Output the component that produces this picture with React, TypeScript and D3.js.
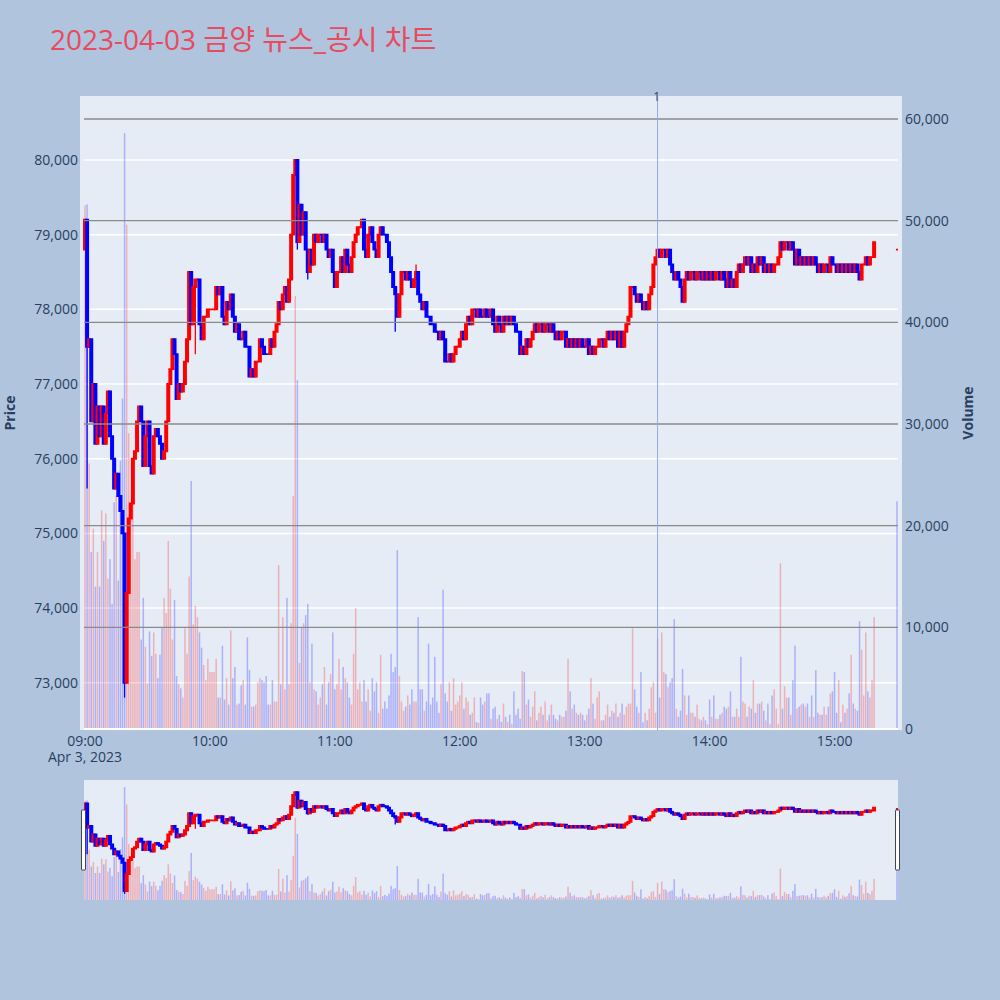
import * as d3 from "d3"
import { useRef, useEffect } from "react"

const title = "2023-04-03 금양 뉴스_공시 차트"
const sessionStart = new Date(2023, 3, 3, 9, 0)
const firstOpen = 78800

// one close per minute, 09:00 .. 15:19
const closes = [
  79200, 77500, 77600, 76500, 77000, 76200, 76700, 76300, 76700, 76200, // 09:00
  76600, 76900, 76300, 76000, 75600, 75800, 75500, 75300, 75000, 73000, // 09:10
  74200, 75200, 75400, 76000, 76100, 76500, 76700, 76500, 75900, 76300, // 09:20
  76500, 75900, 75800, 76300, 76400, 76300, 76200, 76000, 76100, 76500, // 09:30
  77000, 77200, 77600, 77400, 76800, 77000, 76900, 77000, 77300, 77600, // 09:40
  78500, 77800, 78300, 78400, 78400, 77800, 77600, 77900, 77900, 78000, // 09:50
  78000, 78000, 78000, 78300, 78200, 78300, 77900, 77800, 78100, 78000, // 10:00
  78200, 77900, 77700, 77800, 77600, 77600, 77700, 77500, 77500, 77100, // 10:10
  77200, 77100, 77300, 77300, 77600, 77500, 77400, 77400, 77400, 77600, // 10:20
  77500, 77700, 77800, 78100, 78000, 78200, 78300, 78100, 78400, 79000, // 10:30
  79800, 80000, 78900, 79400, 79000, 79300, 78800, 78500, 78800, 78600, // 10:40
  79000, 78900, 79000, 79000, 78900, 79000, 78800, 78700, 78800, 78500, // 10:50
  78300, 78500, 78500, 78700, 78500, 78800, 78600, 78500, 78700, 78900, // 11:00
  79000, 79100, 79100, 79200, 78800, 78700, 79000, 79100, 78900, 78800, // 11:10
  78700, 79000, 79100, 79000, 79000, 78900, 78700, 78500, 78300, 78200, // 11:20
  77900, 78200, 78500, 78500, 78400, 78500, 78400, 78300, 78400, 78500, // 11:30
  78200, 78100, 78000, 78100, 77900, 77900, 77800, 77800, 77700, 77700, // 11:40
  77600, 77700, 77600, 77300, 77300, 77400, 77300, 77400, 77500, 77500, // 11:50
  77600, 77700, 77600, 77800, 77900, 77800, 78000, 78000, 77900, 78000, // 12:00
  77900, 77900, 78000, 77900, 77900, 78000, 77800, 77700, 77900, 77800, // 12:10
  77700, 77900, 77800, 77900, 77800, 77900, 77800, 77700, 77700, 77400, // 12:20
  77500, 77400, 77600, 77500, 77600, 77700, 77800, 77700, 77800, 77800, // 12:30
  77700, 77800, 77800, 77700, 77800, 77700, 77600, 77700, 77600, 77700, // 12:40
  77700, 77500, 77600, 77500, 77600, 77500, 77600, 77500, 77600, 77500, // 12:50
  77500, 77600, 77400, 77500, 77400, 77500, 77500, 77600, 77600, 77500, // 13:00
  77600, 77700, 77600, 77700, 77600, 77700, 77500, 77700, 77500, 77700, // 13:10
  77800, 77900, 78300, 78300, 78200, 78100, 78200, 78100, 78000, 78100, // 13:20
  78000, 78200, 78300, 78600, 78700, 78800, 78700, 78800, 78800, 78700, // 13:30
  78800, 78600, 78500, 78400, 78500, 78400, 78300, 78100, 78400, 78500, // 13:40
  78400, 78500, 78500, 78400, 78500, 78500, 78400, 78500, 78400, 78500, // 13:50
  78400, 78500, 78400, 78500, 78500, 78400, 78500, 78400, 78300, 78500, // 14:00
  78300, 78400, 78300, 78500, 78600, 78500, 78600, 78700, 78600, 78700, // 14:10
  78500, 78600, 78500, 78700, 78600, 78700, 78500, 78600, 78500, 78600, // 14:20
  78500, 78600, 78600, 78700, 78900, 78800, 78900, 78900, 78800, 78900, // 14:30
  78800, 78600, 78800, 78600, 78700, 78600, 78700, 78600, 78700, 78600, // 14:40
  78700, 78600, 78500, 78600, 78500, 78600, 78600, 78500, 78700, 78600, // 14:50
  78600, 78500, 78600, 78500, 78600, 78500, 78600, 78500, 78600, 78500, // 15:00
  78600, 78500, 78400, 78600, 78600, 78700, 78600, 78700, 78700, 78900, // 15:10
]

const volumes = [
  51500, 51600, 26100, 17400, 19700, 14000, 17400, 14000, 21500, 18500, // 09:00
  21200, 14800, 16700, 12300, 22300, 22900, 14600, 26400, 32500, 58600, // 09:10
  49600, 29100, 20800, 22300, 16700, 17400, 17400, 8800, 12900, 8100, // 09:20
  4500, 9600, 7200, 9500, 7400, 5000, 7300, 10000, 12900, 11400, // 09:30
  18500, 13800, 8800, 12700, 5200, 4400, 4000, 3100, 9900, 7400, // 09:40
  15000, 24400, 10300, 12100, 11000, 9500, 8000, 6300, 4800, 6900, // 09:50
  5600, 5600, 5600, 6900, 3100, 3100, 8200, 2900, 5000, 2400, // 10:00
  9700, 5000, 6100, 2400, 2500, 4300, 4800, 2400, 9000, 5800, // 10:10
  2200, 2200, 2400, 4600, 5000, 4800, 4600, 5200, 2400, 2400, // 10:20
  4800, 2700, 2700, 16100, 4400, 11000, 3900, 12900, 4400, 10400, // 10:30
  22900, 42600, 34300, 6500, 10000, 10400, 11200, 12300, 4600, 8400, // 10:40
  3900, 3700, 2400, 3100, 4400, 6100, 2400, 4600, 5400, 9500, // 10:50
  3900, 4400, 6900, 3900, 6100, 5000, 4600, 3100, 2400, 7400, // 11:00
  11900, 3900, 4600, 2700, 4800, 2700, 3900, 1800, 5000, 3700, // 11:10
  4600, 1600, 7300, 2000, 2700, 2000, 3300, 7400, 5600, 6100, // 11:20
  17600, 5200, 2700, 1800, 2200, 3300, 2400, 3900, 2700, 2700, // 11:30
  11000, 3900, 3900, 1800, 2700, 8400, 2400, 3100, 7100, 2700, // 11:40
  1600, 4400, 13700, 3500, 2700, 4600, 1800, 5000, 2400, 2700, // 11:50
  3300, 4600, 2000, 3100, 2700, 1400, 1600, 3100, 700, 600, // 12:00
  3100, 2400, 2700, 3500, 3500, 1000, 2000, 2200, 1000, 1400, // 12:10
  700, 2500, 1200, 700, 1400, 500, 3700, 1400, 2000, 1000, // 12:20
  5700, 5600, 2400, 2900, 1200, 2200, 3700, 850, 1600, 2200, // 12:30
  1400, 2700, 850, 1400, 2400, 1400, 1000, 850, 1400, 1200, // 12:40
  1200, 1800, 6900, 3700, 2000, 2400, 1600, 1400, 1600, 1400, // 12:50
  850, 1400, 2000, 5000, 2500, 1000, 3100, 3700, 850, 850, // 13:00
  1400, 2400, 1200, 1800, 1600, 2500, 1200, 1600, 2500, 1400, // 13:10
  2200, 2500, 2500, 9900, 3900, 2200, 1600, 5600, 660, 1600, // 13:20
  850, 2000, 4100, 4600, 1600, 8900, 3100, 9500, 5600, 5400, // 13:30
  4100, 4600, 5000, 10800, 2000, 1200, 1800, 5900, 3300, 1400, // 13:40
  3300, 1600, 1600, 1200, 2400, 1000, 850, 1200, 850, 470, // 13:50
  2900, 1200, 3300, 1000, 1000, 1400, 1600, 2200, 2000, 2200, // 14:00
  3700, 1200, 1200, 2000, 1200, 7100, 2700, 2500, 1200, 2200, // 14:10
  2000, 4800, 1600, 2500, 2500, 2700, 1800, 850, 2500, 470, // 14:20
  3300, 3900, 2000, 470, 16300, 2000, 4200, 3100, 3100, 1400, // 14:30
  4800, 8200, 2000, 2200, 2400, 2500, 2200, 2500, 1200, 3300, // 14:40
  1200, 5800, 1600, 1400, 1400, 2200, 1400, 2200, 3500, 3700, // 14:50
  5600, 1600, 4800, 660, 2400, 1600, 2000, 3500, 7300, 2500, // 15:00
  2000, 1800, 10600, 7800, 3300, 9500, 3700, 3100, 4800, 11000, // 15:10
]

// [minute, high, low] where the range goes past the body
const wicks: [number, number, number][] = [
  [1, 79200, 75600],
  [19, 75000, 72800],
  [53, 78400, 77400],
  [102, 80000, 78800],
  [107, 78800, 78400],
  [149, 78300, 77700],
  [159, 78600, 78400],
]

// closing auction at 15:30
const auctionMinute = 390
const auctionPrice = 78800
const auctionVolume = 22400

const newsMarks: [string, string][] = [["13:35", "1"]]

const priceTicks = [73000, 74000, 75000, 76000, 77000, 78000, 79000, 80000]
const volumeTicks = [0, 10000, 20000, 30000, 40000, 50000, 60000]

type Candle = {
  t: Date
  o: number
  h: number
  l: number
  c: number
  v: number
  up: boolean
  volUp: boolean
}

const at = (m: number) => new Date(sessionStart.getTime() + m * 60000)

function buildCandles(): Candle[] {
  const wickMap = new Map(wicks.map((w) => [w[0], w]))
  const rows = closes.map((c, i) => ({ m: i, o: i === 0 ? firstOpen : closes[i - 1], c, v: volumes[i] }))
  rows.push({ m: auctionMinute, o: auctionPrice, c: auctionPrice, v: auctionVolume })
  let dir = true
  let volDir = true
  let prevClose = firstOpen
  return rows.map((r) => {
    if (r.c !== r.o) dir = r.c > r.o
    if (r.c !== prevClose) volDir = r.c > prevClose
    prevClose = r.c
    const w = wickMap.get(r.m)
    return {
      t: at(r.m),
      o: r.o,
      c: r.c,
      h: Math.max(r.o, r.c, w ? w[1] : -Infinity),
      l: Math.min(r.o, r.c, w ? w[2] : Infinity),
      v: r.v,
      up: dir,
      volUp: volDir,
    }
  })
}

const UP = "#ff0000"
const DOWN = "#0000ff"
const FONT = "'Open Sans', 'Noto Sans CJK KR', verdana, arial, sans-serif"
const TEXT = "#2a3f5f"

type G = d3.Selection<SVGGElement, unknown, null, undefined>

function drawVolume(g: G, data: Candle[], x: d3.ScaleTime<number, number>, yV: d3.ScaleLinear<number, number>) {
  g.append("g")
    .selectAll("rect")
    .data(data)
    .join("rect")
    .attr("x", (d) => x(d.t) - 0.75)
    .attr("width", 1.5)
    .attr("y", (d) => yV(d.v))
    .attr("height", (d) => yV(0) - yV(d.v))
    .attr("fill", (d) => (d.volUp ? "rgba(255,0,0,0.25)" : "rgba(0,0,255,0.25)"))
}

function drawCandles(g: G, data: Candle[], x: d3.ScaleTime<number, number>, yP: d3.ScaleLinear<number, number>) {
  const color = (d: Candle) => (d.up ? UP : DOWN)
  const group = g.append("g")
  group
    .append("g")
    .selectAll("path")
    .data(data)
    .join("path")
    .attr("d", (d) => {
      const cx = x(d.t)
      return `M${cx},${yP(d.h)}V${yP(d.l)}`
    })
    .attr("fill", "none")
    .attr("stroke", color)
    .attr("stroke-width", 1.3)
  group
    .append("g")
    .selectAll("path")
    .data(data)
    .join("path")
    .attr("d", (d) => {
      const cx = x(d.t)
      const half = 1.05
      const top = yP(Math.max(d.o, d.c))
      const bot = yP(Math.min(d.o, d.c))
      return `M${cx - half},${top}H${cx + half}V${bot}H${cx - half}Z`
    })
    .attr("fill", color)
    .attr("stroke", color)
    .attr("stroke-width", 1.9)
}

export default function App() {
  const svgRef = useRef<SVGSVGElement>(null)

  useEffect(() => {
    if (!svgRef.current) return
    const data = buildCandles()

    const width = 1000
    const height = 1000
    const plot = { left: 80, right: 902, top: 96, bottom: 730 }
    const slider = { left: 84, right: 898, top: 780, bottom: 900 }

    const svg = d3.select(svgRef.current)
    svg.selectAll("*").remove()
    svg.attr("width", width).attr("height", height).style("font-family", FONT)

    svg.append("rect").attr("width", width).attr("height", height).attr("fill", "#b0c4de")

    const x = d3
      .scaleTime()
      .domain([at(-2.4), at(auctionMinute + 2.4)])
      .range([plot.left, plot.right])
    const yP = d3.scaleLinear().domain([72367, 80857]).range([plot.bottom, plot.top])
    const yV = d3.scaleLinear().domain([0, 62260]).range([729, plot.top])

    const defs = svg.append("defs")
    defs
      .append("clipPath")
      .attr("id", "plot-clip")
      .append("rect")
      .attr("x", plot.left)
      .attr("y", plot.top)
      .attr("width", plot.right - plot.left)
      .attr("height", plot.bottom - plot.top)
    defs
      .append("clipPath")
      .attr("id", "slider-clip")
      .append("rect")
      .attr("x", slider.left)
      .attr("y", slider.top)
      .attr("width", slider.right - slider.left)
      .attr("height", slider.bottom - slider.top)

    // title
    svg
      .append("text")
      .attr("x", 50)
      .attr("y", 50)
      .attr("font-size", 28)
      .attr("fill", "#e84a5f")
      .text(title)

    // main plot
    svg
      .append("rect")
      .attr("x", plot.left)
      .attr("y", plot.top)
      .attr("width", plot.right - plot.left)
      .attr("height", plot.bottom - plot.top)
      .attr("fill", "#e5ecf6")

    svg
      .append("g")
      .selectAll("line")
      .data(priceTicks)
      .join("line")
      .attr("x1", 84)
      .attr("x2", 898)
      .attr("y1", (d) => yP(d))
      .attr("y2", (d) => yP(d))
      .attr("stroke", "#ffffff")
      .attr("stroke-width", 1.5)

    const main = svg.append("g").attr("clip-path", "url(#plot-clip)") as G
    drawVolume(main, data, x, yV)

    svg
      .append("g")
      .selectAll("line")
      .data(volumeTicks)
      .join("line")
      .attr("x1", 84)
      .attr("x2", 898)
      .attr("y1", (d) => yV(d))
      .attr("y2", (d) => yV(d))
      .attr("stroke", (d) => (d === 0 ? "#ffffff" : "#8a8a8a"))
      .attr("stroke-width", (d) => (d === 0 ? 2 : 1.3))

    // news marks
    const markTime = (s: string) => {
      const [hh, mm] = s.split(":").map(Number)
      return new Date(2023, 3, 3, hh, mm)
    }
    const marks = svg.append("g")
    marks
      .selectAll("line")
      .data(newsMarks)
      .join("line")
      .attr("x1", (d) => x(markTime(d[0])))
      .attr("x2", (d) => x(markTime(d[0])))
      .attr("y1", plot.top)
      .attr("y2", plot.bottom)
      .attr("stroke", "#93a6e6")
      .attr("stroke-width", 1)

    drawCandles(main, data, x, yP)

    marks
      .selectAll("text")
      .data(newsMarks)
      .join("text")
      .attr("x", (d) => x(markTime(d[0])) - 1)
      .attr("y", 101)
      .attr("text-anchor", "middle")
      .attr("font-size", 12)
      .attr("fill", TEXT)
      .text((d) => d[1])

    // left price axis
    svg
      .append("g")
      .selectAll("text")
      .data(priceTicks)
      .join("text")
      .attr("x", 78)
      .attr("y", (d) => yP(d))
      .attr("dy", "0.35em")
      .attr("text-anchor", "end")
      .attr("font-size", 14)
      .attr("fill", TEXT)
      .text((d) => d3.format(",")(d))

    // right volume axis
    svg
      .append("g")
      .selectAll("text")
      .data(volumeTicks)
      .join("text")
      .attr("x", 905)
      .attr("y", (d) => yV(d))
      .attr("dy", "0.35em")
      .attr("text-anchor", "start")
      .attr("font-size", 14)
      .attr("fill", TEXT)
      .text((d) => d3.format(",")(d))

    // time axis
    const hours = x.ticks(d3.timeHour.every(1)!)
    svg
      .append("g")
      .selectAll("text")
      .data(hours)
      .join("text")
      .attr("x", (d) => x(d))
      .attr("y", 746)
      .attr("text-anchor", "middle")
      .attr("font-size", 14)
      .attr("fill", TEXT)
      .text((d) => d3.timeFormat("%H:%M")(d))
    svg
      .append("text")
      .attr("x", x(hours[0]))
      .attr("y", 762)
      .attr("text-anchor", "middle")
      .attr("font-size", 14)
      .attr("fill", TEXT)
      .text(d3.timeFormat("%b %-d, %Y")(hours[0]))

    // axis titles
    svg
      .append("text")
      .attr("transform", `translate(15,${(plot.top + plot.bottom) / 2}) rotate(-90)`)
      .attr("text-anchor", "middle")
      .attr("font-size", 14)
      .attr("font-weight", "bold")
      .attr("fill", TEXT)
      .text("Price")
    svg
      .append("text")
      .attr("transform", `translate(973,${(plot.top + plot.bottom) / 2}) rotate(-90)`)
      .attr("text-anchor", "middle")
      .attr("font-size", 14)
      .attr("font-weight", "bold")
      .attr("fill", TEXT)
      .text("Volume")

    // range slider
    const xs = d3
      .scaleTime()
      .domain([at(-0.5), at(auctionMinute + 0.5)])
      .range([slider.left, slider.right])
    const ysP = d3.scaleLinear().domain(yP.domain()).range([slider.bottom, slider.top])
    const ysV = d3.scaleLinear().domain(yV.domain()).range([slider.bottom, slider.top])

    svg
      .append("rect")
      .attr("x", slider.left)
      .attr("y", slider.top)
      .attr("width", slider.right - slider.left)
      .attr("height", slider.bottom - slider.top)
      .attr("fill", "#e5ecf6")
    const mini = svg.append("g").attr("clip-path", "url(#slider-clip)") as G
    drawVolume(mini, data, xs, ysV)
    drawCandles(mini, data, xs, ysP)

    svg
      .append("g")
      .selectAll("rect")
      .data([slider.left, slider.right])
      .join("rect")
      .attr("x", (d) => d - 2.5)
      .attr("y", 810)
      .attr("width", 4)
      .attr("height", 60)
      .attr("rx", 0.5)
      .attr("fill", "#ffffff")
      .attr("stroke", "#444444")
      .attr("stroke-width", 1)
  }, [])

  return (
    <div style={{ position: "absolute", left: 0, top: 0, width: 1000, height: 1000 }}>
      <svg ref={svgRef} style={{ display: "block" }}></svg>
    </div>
  )
}
